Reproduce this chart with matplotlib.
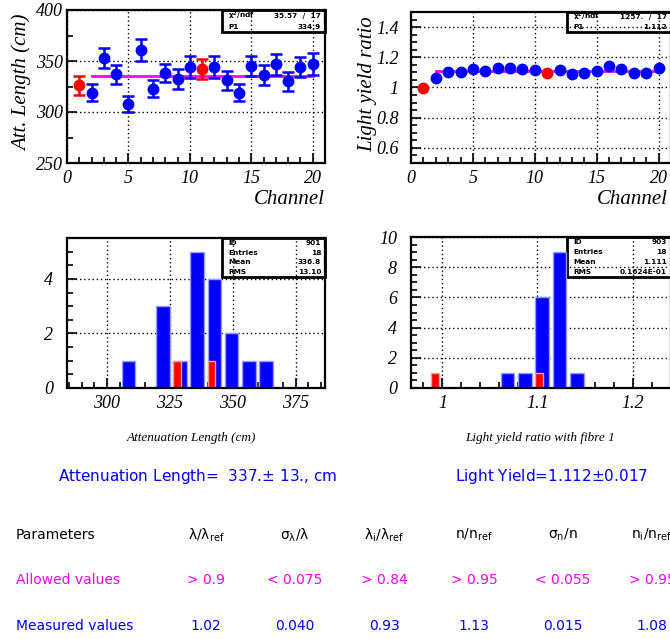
import numpy as np
import matplotlib.pyplot as plt
from matplotlib.patches import Rectangle
from matplotlib.ticker import MultipleLocator, FormatStrFormatter

# ---- data ----
channels = list(range(1, 21))
ref_channels = [1, 11]

att_len = [326, 319, 353, 337, 308, 361, 323, 338, 332, 344,
           342, 344, 331, 319, 345, 336, 347, 330, 344, 347]
att_err = [9, 8.5, 10, 9.3, 8, 11, 8.2, 9, 9.8, 10.5,
           10, 10.6, 9.3, 8.7, 9.8, 9.8, 10.3, 9.2, 9.8, 10.6]
att_fit = 334.9

ly_ratio = [1.0, 1.066, 1.103, 1.103, 1.12, 1.107, 1.127, 1.127, 1.12, 1.116,
            1.094, 1.114, 1.087, 1.098, 1.109, 1.142, 1.122, 1.096, 1.098, 1.131]
ly_fit = 1.112
fit_range = (2, 20)

att_hist_range = (284.1, 386.6)
att_counts = [0, 0, 0, 1, 0, 3, 1, 5, 4, 2, 1, 1, 0, 0, 0]
att_ref_counts = [0, 0, 0, 0, 0, 0, 1, 0, 1, 0, 0, 0, 0, 0, 0]

ly_hist_range = (0.967, 1.2404)
ly_counts = [0, 0, 0, 0, 0, 1, 1, 6, 9, 1, 0, 0, 0, 0, 0]
ly_ref_counts = [0, 1, 0, 0, 0, 0, 0, 1, 0, 0, 0, 0, 0, 0, 0]

fit_box_labels = [r'$\chi^2$/ndf', 'P1']
att_fit_box = ['35.57  /  17', '334.9']
ly_fit_box = ['1257.  /  17', '1.112']
hist_box_labels = ['ID', 'Entries', 'Mean', 'RMS']
att_hist_box = ['901', '18', '336.8', '13.10']
ly_hist_box = ['903', '18', '1.111', '0.1624E-01']

summary_att = 'Attenuation Length=  337.$\\pm$ 13., cm'
summary_ly = 'Light Yield=1.112$\\pm$0.017'

row_names = ['Parameters', 'Allowed values', 'Measured values']
param_names = [r'$\lambda/\lambda_{ref}$', r'$\sigma_{\lambda}/\lambda$',
               r'$\lambda_{i}/\lambda_{ref}$', r'$n/n_{ref}$',
               r'$\sigma_{n}/n$', r'$n_{i}/n_{ref}$']
allowed = ['> 0.9', '< 0.075', '> 0.84', '> 0.95', '< 0.055', '> 0.95']
measured = ['1.02', '0.040', '0.93', '1.13', '0.015', '1.08']

# ---- style ----
plt.rcParams['font.family'] = ['Liberation Serif', 'DejaVu Serif']
plt.rcParams['font.style'] = 'italic'
plt.rcParams['mathtext.fontset'] = 'dejavusans'
plt.rcParams['mathtext.default'] = 'regular'

W, H = 670, 639
fig = plt.figure(figsize=(6.7, 6.39), dpi=100)


def rect(l, t, r, b):
    return [l / W, 1 - b / H, (r - l) / W, (b - t) / H]


def style(ax, ypad):
    for s in ax.spines.values():
        s.set_linewidth(1.6)
    ax.set_axisbelow(True)
    ax.tick_params(which='both', direction='in', top=False, right=False, width=1.2, labelsize=13)
    ax.tick_params(which='major', length=7)
    ax.tick_params(which='minor', length=4)
    ax.tick_params(axis='y', pad=ypad)
    ax.tick_params(axis='x', pad=5)
    ax.grid(True, which='major', linestyle=(0, (1, 2)), color='black', lw=1)
    ax.xaxis.set_major_formatter(FormatStrFormatter('%g'))
    ax.yaxis.set_major_formatter(FormatStrFormatter('%g'))


def stat_box(ax, y0, labels, values, x0=0.6):
    ax.add_patch(Rectangle((x0, y0), 1 - x0, 1 - y0, transform=ax.transAxes,
                           facecolor='white', edgecolor='black', lw=2,
                           zorder=0.4, clip_on=False))
    h = (1 - y0) / len(labels)
    for i, (lab, val) in enumerate(zip(labels, values)):
        yc = 1 - h * (i + 0.5)
        kw = dict(transform=ax.transAxes, va='center', fontsize=5.3, fontweight='bold',
                  family='DejaVu Sans', style='normal', zorder=0.45)
        ax.text(x0 + 0.025, yc, lab, ha='left', **kw)
        ax.text(0.985, yc, val, ha='right', **kw)


def scatter_panel(ax, values, errors, fit):
    blue_x = [c for c in channels if c not in ref_channels]
    blue_y = [v for c, v in zip(channels, values) if c not in ref_channels]
    red_y = [v for c, v in zip(channels, values) if c in ref_channels]
    ekw = dict(fmt='o', ms=7.5, capsize=4, elinewidth=1.8, capthick=1.8, zorder=3)
    if errors is not None:
        blue_e = [e for c, e in zip(channels, errors) if c not in ref_channels]
        red_e = [e for c, e in zip(channels, errors) if c in ref_channels]
        ax.errorbar(blue_x, blue_y, yerr=blue_e, color='blue', **ekw)
        ax.errorbar(ref_channels, red_y, yerr=red_e, color='red', **ekw)
    else:
        ax.plot(blue_x, blue_y, 'o', color='blue', ms=7.5, zorder=3)
        ax.plot(ref_channels, red_y, 'o', color='red', ms=7.5, zorder=3)
    ax.plot(fit_range, [fit, fit], color='magenta', lw=2, zorder=2)
    ax.set_xlim(0, 21)
    ax.xaxis.set_major_locator(MultipleLocator(5))
    ax.xaxis.set_minor_locator(MultipleLocator(1))


def hist_panel(ax, rng, counts, ref_counts):
    edges = np.linspace(rng[0], rng[1], len(counts) + 1)
    w = edges[1] - edges[0]
    ax.bar(edges[:-1] + 0.18 * w, counts, width=0.78 * w, align='edge',
           color='blue', edgecolor='#9a9aff', lw=1, zorder=1)
    ax.bar(edges[:-1] + 0.18 * w, ref_counts, width=0.45 * w, align='edge',
           color='red', edgecolor='#ff9a9a', lw=1, zorder=1.1)
    ax.set_xlim(rng)


# top-left: attenuation length per channel
ax1 = fig.add_axes(rect(67, 10, 325, 163))
style(ax1, 3)
scatter_panel(ax1, att_len, att_err, att_fit)
ax1.set_ylim(250, 400)
ax1.yaxis.set_major_locator(MultipleLocator(50))
ax1.yaxis.set_minor_locator(MultipleLocator(25))
stat_box(ax1, 0.856, fit_box_labels, att_fit_box)

# top-right: light yield ratio per channel
ax2 = fig.add_axes(rect(411, 12, 671, 163))
style(ax2, 9)
scatter_panel(ax2, ly_ratio, None, ly_fit)
ax2.set_ylim(0.5, 1.5)
ax2.yaxis.set_major_locator(MultipleLocator(0.2))
ax2.yaxis.set_minor_locator(MultipleLocator(0.05))
stat_box(ax2, 0.868, fit_box_labels, ly_fit_box)

# bottom-left: attenuation length histogram
ax3 = fig.add_axes(rect(67, 238, 325, 388))
style(ax3, 10)
hist_panel(ax3, att_hist_range, att_counts, att_ref_counts)
ax3.set_ylim(0, 5.5)
ax3.xaxis.set_major_locator(MultipleLocator(25))
ax3.xaxis.set_minor_locator(MultipleLocator(5))
ax3.yaxis.set_major_locator(MultipleLocator(2))
ax3.yaxis.set_minor_locator(MultipleLocator(0.5))
stat_box(ax3, 0.74, hist_box_labels, att_hist_box)

# bottom-right: light yield histogram
ax4 = fig.add_axes(rect(411, 237, 671, 388))
style(ax4, 10)
hist_panel(ax4, ly_hist_range, ly_counts, ly_ref_counts)
ax4.set_ylim(0, 10)
ax4.xaxis.set_major_locator(MultipleLocator(0.1))
ax4.xaxis.set_minor_locator(MultipleLocator(0.02))
ax4.yaxis.set_major_locator(MultipleLocator(2))
ax4.yaxis.set_minor_locator(MultipleLocator(0.5))
stat_box(ax4, 0.735, hist_box_labels, ly_hist_box)

# axis titles
fig.text(22 / W, 1 - 83 / H, 'Att. Length (cm)', rotation=90, ha='center', va='center', fontsize=15)
fig.text(368 / W, 1 - 84 / H, 'Light yield ratio', rotation=90, ha='center', va='center', fontsize=15)
fig.text(325 / W, 1 - 199 / H, 'Channel', ha='right', va='center', fontsize=15)
fig.text(668 / W, 1 - 199 / H, 'Channel', ha='right', va='center', fontsize=15)
fig.text(191 / W, 1 - 438 / H, 'Attenuation Length (cm)', ha='center', va='center', fontsize=9.5)
fig.text(540 / W, 1 - 438 / H, 'Light yield ratio with fibre 1', ha='center', va='center', fontsize=9.5)

# summary lines and table
skw = dict(family='DejaVu Sans', style='normal', va='center')
fig.text(58 / W, 1 - 477 / H, summary_att, color='blue', fontsize=11, ha='left', **skw)
fig.text(455 / W, 1 - 477 / H, summary_ly, color='blue', fontsize=11, ha='left', **skw)

row_y = [535, 580, 626]
row_colors = ['black', 'magenta', 'blue']
col_x = [206, 295, 384, 474, 563, 652]
for name, y, c in zip(row_names, row_y, row_colors):
    fig.text(16 / W, 1 - y / H, name, color=c, fontsize=10, ha='left', **skw)
for cells, y, c in zip([param_names, allowed, measured], row_y, row_colors):
    for x, s in zip(col_x, cells):
        fig.text(x / W, 1 - y / H, s, color=c, fontsize=10, ha='center', **skw)

fig.savefig('out.png', dpi=100)
